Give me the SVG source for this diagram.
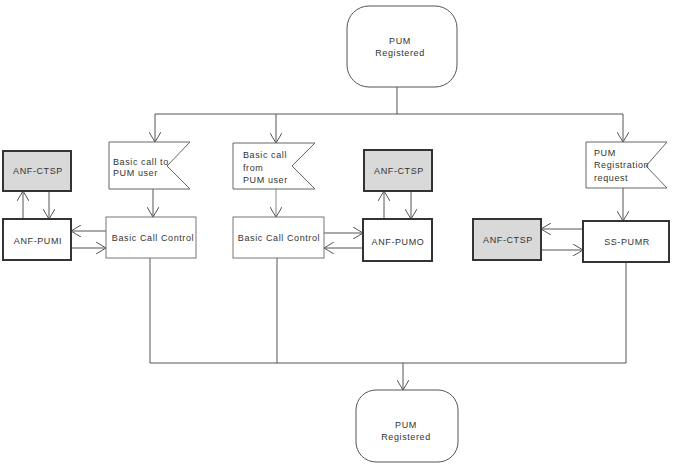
<svg xmlns="http://www.w3.org/2000/svg" width="673" height="464" viewBox="0 0 673 464">
<style>
text{font-family:"Liberation Sans",Arial,sans-serif;font-size:9px;fill:#333;letter-spacing:0.6px}
.m{text-anchor:middle}
.thick{fill:#fff;stroke:#333;stroke-width:2}
.gray{fill:#d9d9d9;stroke:#333;stroke-width:2}
.thin{fill:#fff;stroke:#777;stroke-width:1}
.flag{fill:#fff;stroke:#666;stroke-width:1}
.term{fill:#fff;stroke:#555;stroke-width:1}
.c{fill:none;stroke:#555;stroke-width:1}
.a{marker-end:url(#arr)}
</style>
<defs>
<marker id="arr" viewBox="0 0 10 12" refX="10" refY="6" markerWidth="10" markerHeight="12" markerUnits="userSpaceOnUse" orient="auto">
<path d="M0,0 L10,6 L0,12" fill="none" stroke="#555" stroke-width="1"/>
</marker>
</defs>
<rect width="673" height="464" fill="#fff"/>
<g id="connectors">
<path class="c" d="M397,87 V114 M155,114 H623"/>
<path class="c a" d="M155,114 V142"/>
<path class="c a" d="M276,114 V143"/>
<path class="c a" d="M623,114 V142"/>
<path class="c a" d="M153,189 V217"/>
<path class="c a" d="M276,189 V217" style="stroke:#888"/>
<path class="c a" d="M623,188 V221"/>
<path class="c a" d="M23,219 V191"/>
<path class="c a" d="M49,191 V219"/>
<path class="c a" d="M106,231 H71"/>
<path class="c a" d="M71,248 H106"/>
<path class="c a" d="M324,233 H363"/>
<path class="c a" d="M363,248 H324"/>
<path class="c a" d="M384,219 V191"/>
<path class="c a" d="M411,191 V219"/>
<path class="c a" d="M583,229 H541"/>
<path class="c a" d="M541,250 H583"/>
<path class="c" d="M150,258 V363 M277,258 V363 M626,262 V363 M150,363 H626"/>
<path class="c a" d="M403,363 V390"/>
</g>
<g id="start">
<rect class="term" x="347" y="6" width="110" height="81" rx="22"/>
<text class="m" x="400" y="44">PUM</text>
<text class="m" x="400" y="56">Registered</text>
</g>
<g id="flag1">
<polygon class="flag" points="109,142 190,142 167,166 190,189 109,189"/>
<text x="113" y="165">Basic call to</text>
<text x="113" y="176">PUM user</text>
</g>
<g id="flag2">
<polygon class="flag" points="233,143 315,143 292,166 315,189 233,189"/>
<text x="243" y="158">Basic call</text>
<text x="243" y="171">from</text>
<text x="243" y="183">PUM user</text>
</g>
<g id="flag3">
<polygon class="flag" points="586,142 667,142 646,166 667,188 586,188"/>
<text x="594" y="156">PUM</text>
<text x="594" y="168">Registration</text>
<text x="594" y="181">request</text>
</g>
<g id="ctsp1">
<rect class="gray" x="3" y="151" width="68" height="40"/>
<text class="m" x="38" y="174">ANF-CTSP</text>
</g>
<g id="pumi">
<rect class="thick" x="3" y="219" width="68" height="41"/>
<text class="m" x="38" y="244">ANF-PUMI</text>
</g>
<g id="bcc1">
<rect class="thin" x="106" y="217" width="90" height="41"/>
<text class="m" x="153" y="241">Basic Call Control</text>
</g>
<g id="bcc2">
<rect class="thin" x="233" y="217" width="91" height="41"/>
<text class="m" x="279" y="241">Basic Call Control</text>
</g>
<g id="ctsp2">
<rect class="gray" x="364" y="150" width="68" height="41"/>
<text class="m" x="399" y="174">ANF-CTSP</text>
</g>
<g id="pumo">
<rect class="thick" x="363" y="219" width="69" height="42"/>
<text class="m" x="398" y="245">ANF-PUMO</text>
</g>
<g id="ctsp3">
<rect class="gray" x="473" y="219" width="68" height="41"/>
<text class="m" x="508" y="243">ANF-CTSP</text>
</g>
<g id="sspumr">
<rect class="thick" x="583" y="221" width="86" height="41"/>
<text class="m" x="627" y="245">SS-PUMR</text>
</g>
<g id="end">
<rect class="term" x="356" y="390" width="102" height="72" rx="20"/>
<text class="m" x="406" y="428">PUM</text>
<text class="m" x="406" y="440">Registered</text>
</g>
</svg>
